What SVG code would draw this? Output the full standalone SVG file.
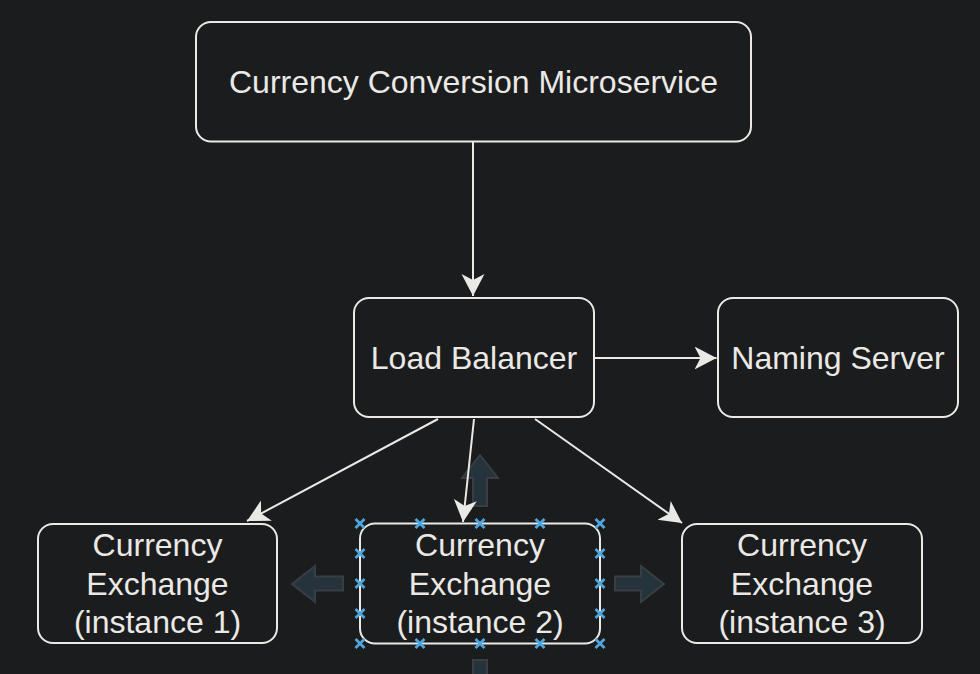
<svg xmlns="http://www.w3.org/2000/svg" width="980" height="674" viewBox="0 0 980 674">
  <defs>
    <style>
      .box { fill: #1b1c1e; stroke: #ebe9e5; stroke-width: 2; }
      .lbl { fill: #ebe9e5; font-family: "Liberation Sans", Arial, Helvetica, sans-serif; font-size: 32px; text-anchor: middle; }
      .edge { fill: none; stroke: #ebe9e5; stroke-width: 2; }
      .hover { fill: #25333d; stroke: #3a3e42; stroke-width: 2; }
      .handle { stroke: #4ea6dd; stroke-width: 2.8; fill: none; }
    </style>
    <marker id="arr" markerUnits="userSpaceOnUse" markerWidth="24" markerHeight="24" refX="22" refY="11.5" orient="auto" viewBox="0 0 24 24">
      <path d="M0,0 L22,11.5 L0,23 L6,11.5 Z" fill="#ebe9e5"/>
    </marker>
    <path id="hx" d="M-4.5,-4.5 L4.5,4.5 M-4.5,4.5 L4.5,-4.5"/>
  </defs>

  <rect x="0" y="0" width="980" height="674" fill="#1b1c1e"/>

  <g id="hover-arrows">
    <path class="hover" d="M480,455 L498,478 L487,478 L487,506 L473,506 L473,478 L462,478 Z"/>
    <path class="hover" d="M292,584 L315,566 L315,576.5 L343,576.5 L343,590.5 L315,590.5 L315,602 Z"/>
    <path class="hover" d="M664,584 L641,566 L641,576.5 L615,576.5 L615,590.5 L641,590.5 L641,602 Z"/>
    <path class="hover" d="M473,660 L487,660 L487,680 L473,680 Z"/>
  </g>

  <g id="conversion">
    <rect class="box" x="196" y="22" width="555" height="119.5" rx="15"/>
    <text class="lbl" x="473.5" y="93">Currency Conversion Microservice</text>
  </g>

  <g id="load-balancer">
    <rect class="box" x="354" y="298" width="240" height="119" rx="15"/>
    <text class="lbl" x="474" y="369">Load Balancer</text>
  </g>

  <g id="naming-server">
    <rect class="box" x="718" y="298" width="240" height="119" rx="15"/>
    <text class="lbl" x="838" y="369">Naming Server</text>
  </g>

  <g id="exchange-1">
    <rect class="box" x="38" y="524" width="239" height="119" rx="15"/>
    <text class="lbl" x="157.5" y="556">Currency</text>
    <text class="lbl" x="157.5" y="594.5">Exchange</text>
    <text class="lbl" x="157.5" y="633">(instance 1)</text>
  </g>

  <g id="exchange-2">
    <rect class="box" x="360" y="523.5" width="240" height="120" rx="15"/>
    <text class="lbl" x="480" y="556">Currency</text>
    <text class="lbl" x="480" y="594.5">Exchange</text>
    <text class="lbl" x="480" y="633">(instance 2)</text>
  </g>

  <g id="exchange-3">
    <rect class="box" x="682" y="524" width="240" height="119" rx="15"/>
    <text class="lbl" x="802" y="556">Currency</text>
    <text class="lbl" x="802" y="594.5">Exchange</text>
    <text class="lbl" x="802" y="633">(instance 3)</text>
  </g>

  <g id="connectors">
    <line class="edge" x1="473" y1="141.5" x2="473" y2="296" marker-end="url(#arr)"/>
    <line class="edge" x1="594" y1="358" x2="716.5" y2="358" marker-end="url(#arr)"/>
    <line class="edge" x1="438" y1="419" x2="247" y2="521" marker-end="url(#arr)"/>
    <line class="edge" x1="474" y1="419" x2="463" y2="522" marker-end="url(#arr)"/>
    <line class="edge" x1="535" y1="419" x2="682" y2="523" marker-end="url(#arr)"/>
  </g>

  <g id="selection-handles" class="handle">
    <use href="#hx" x="360" y="523.5"/>
    <use href="#hx" x="420" y="523.5"/>
    <use href="#hx" x="480" y="523.5"/>
    <use href="#hx" x="540" y="523.5"/>
    <use href="#hx" x="600" y="523.5"/>
    <use href="#hx" x="360" y="553.5"/>
    <use href="#hx" x="600" y="553.5"/>
    <use href="#hx" x="360" y="583.5"/>
    <use href="#hx" x="600" y="583.5"/>
    <use href="#hx" x="360" y="613.5"/>
    <use href="#hx" x="600" y="613.5"/>
    <use href="#hx" x="360" y="643.5"/>
    <use href="#hx" x="420" y="643.5"/>
    <use href="#hx" x="480" y="643.5"/>
    <use href="#hx" x="540" y="643.5"/>
    <use href="#hx" x="600" y="643.5"/>
  </g>
</svg>
